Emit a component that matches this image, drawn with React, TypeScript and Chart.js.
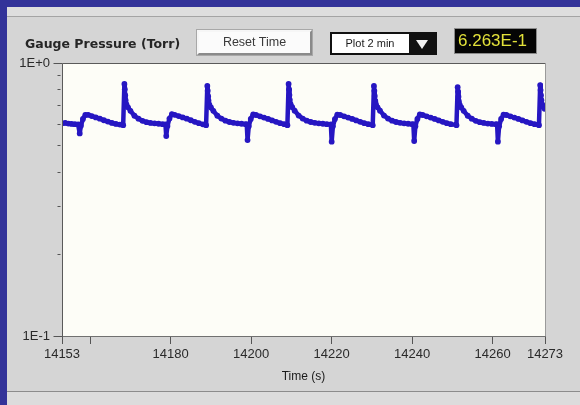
import React, { useEffect, useRef } from "react";
import { Chart, registerables } from "chart.js";

Chart.register(...registerables);

// ---- data ----
const times: number[] = [
  14153.0, 14153.8, 14154.6, 14155.4, 14156.2, 14157.0, 14157.4, 14157.7, 14158.2, 14158.8,
  14159.5, 14160.4, 14161.4, 14162.4, 14163.4, 14164.4, 14165.4, 14166.4, 14167.4, 14168.2,
  14168.5, 14168.6, 14168.7, 14168.8, 14169.0, 14169.4, 14170.0, 14171.0, 14172.0, 14173.0,
  14174.0, 14175.0, 14176.0, 14177.0, 14178.0, 14178.7, 14178.9, 14179.2, 14179.7, 14180.3,
  14181.0, 14182.0, 14183.0, 14184.0, 14185.0, 14186.0, 14187.0, 14188.0, 14188.8,
  14189.1, 14189.2, 14189.3, 14189.4, 14189.6, 14190.0, 14190.6, 14191.6, 14192.6, 14193.6,
  14194.6, 14195.6, 14196.6, 14197.6, 14198.6, 14198.9, 14199.1, 14199.4, 14199.9, 14200.5,
  14201.2, 14202.2, 14203.2, 14204.2, 14205.2, 14206.2, 14207.2, 14208.2, 14209.0,
  14209.3, 14209.4, 14209.5, 14209.6, 14209.8, 14210.2, 14210.8, 14211.8, 14212.8, 14213.8,
  14214.8, 14215.8, 14216.8, 14217.8, 14218.8, 14219.8, 14220.0, 14220.3, 14220.8, 14221.4,
  14222.1, 14223.1, 14224.1, 14225.1, 14226.1, 14227.1, 14228.1, 14229.1, 14230.2,
  14230.5, 14230.6, 14230.7, 14230.8, 14231.0, 14231.4, 14232.0, 14233.0, 14234.0, 14235.0,
  14236.0, 14237.0, 14238.0, 14239.0, 14240.0, 14240.3, 14240.5, 14240.8, 14241.3, 14241.9,
  14242.6, 14243.6, 14244.6, 14245.6, 14246.6, 14247.6, 14248.6, 14249.6, 14251.0,
  14251.3, 14251.4, 14251.5, 14251.6, 14251.8, 14252.2, 14252.8, 14253.8, 14254.8, 14255.8,
  14256.8, 14257.8, 14258.8, 14259.8, 14260.8, 14261.1, 14261.3, 14261.6, 14262.1, 14262.7,
  14263.4, 14264.4, 14265.4, 14266.4, 14267.4, 14268.4, 14269.4, 14270.4, 14271.5,
  14271.8, 14271.9, 14272.0, 14272.1, 14272.3, 14272.6, 14272.9,
];

const pressure: number[] = [
  0.601, 0.603, 0.600, 0.598, 0.597, 0.596, 0.552, 0.589, 0.624, 0.645,
  0.646, 0.639, 0.632, 0.625, 0.617, 0.610, 0.603, 0.598, 0.595, 0.592,
  0.838, 0.802, 0.762, 0.731, 0.706, 0.688, 0.668, 0.641, 0.625, 0.614,
  0.607, 0.603, 0.601, 0.599, 0.597, 0.596, 0.540, 0.588, 0.626, 0.650,
  0.646, 0.639, 0.632, 0.625, 0.617, 0.609, 0.602, 0.596, 0.592,
  0.824, 0.792, 0.756, 0.728, 0.704, 0.687, 0.668, 0.641, 0.626, 0.615,
  0.608, 0.604, 0.601, 0.599, 0.597, 0.596, 0.522, 0.587, 0.624, 0.648,
  0.645, 0.638, 0.631, 0.624, 0.616, 0.609, 0.602, 0.597, 0.592,
  0.838, 0.801, 0.763, 0.733, 0.707, 0.689, 0.669, 0.642, 0.626, 0.615,
  0.608, 0.604, 0.601, 0.599, 0.597, 0.596, 0.515, 0.586, 0.623, 0.647,
  0.645, 0.638, 0.631, 0.624, 0.616, 0.609, 0.602, 0.597, 0.592,
  0.824, 0.791, 0.757, 0.727, 0.705, 0.688, 0.669, 0.642, 0.626, 0.615,
  0.608, 0.604, 0.601, 0.599, 0.597, 0.596, 0.518, 0.587, 0.624, 0.648,
  0.645, 0.638, 0.631, 0.624, 0.616, 0.609, 0.602, 0.597, 0.592,
  0.815, 0.786, 0.753, 0.725, 0.704, 0.687, 0.668, 0.641, 0.625, 0.614,
  0.607, 0.603, 0.600, 0.598, 0.597, 0.596, 0.515, 0.586, 0.624, 0.647,
  0.645, 0.638, 0.631, 0.624, 0.616, 0.609, 0.602, 0.597, 0.592,
  0.830, 0.796, 0.762, 0.731, 0.706, 0.690, 0.680,
];

const xTickValues: number[] = [14153, 14160, 14180, 14200, 14220, 14240, 14260, 14273];
const xTickLabels: string[] = ["14153", "", "14180", "14200", "14220", "14240", "14260", "14273"];
const yTickValues: number[] = [0.1, 0.2, 0.3, 0.4, 0.5, 0.6, 0.7, 0.8, 0.9, 1];
const yTickLabels: string[] = ["1E-1", "", "", "", "", "", "", "", "", "1E+0"];

const chartTitle = "Gauge Pressure (Torr)";
const xAxisTitle = "Time (s)";
const resetLabel = "Reset Time";
const plotLabel = "Plot 2 min";
const currentReading = "6.263E-1";

// ---- styles ----
const BLUE = "#333399";
const PANEL = "#d5d5d5";
const PLOT_BG = "#fdfdf7";
const LINE = "#2616c2";
const FONT = "'Liberation Sans', Arial, sans-serif";

const framePlugin = {
  id: "frame",
  beforeDraw(chart: any) {
    const { ctx, chartArea: a } = chart;
    ctx.save();
    ctx.fillStyle = PLOT_BG;
    ctx.fillRect(a.left, a.top, a.right - a.left, a.bottom - a.top);
    ctx.restore();
  },
  afterDatasetsDraw(chart: any) {
    const { ctx, chartArea: a } = chart;
    const L = Math.round(a.left) + 0.5;
    const R = Math.round(a.right) + 0.5;
    const T = Math.round(a.top) + 0.5;
    const B = Math.round(a.bottom) + 0.5;
    ctx.save();
    ctx.lineWidth = 1;
    ctx.strokeStyle = "#5a5a5a";
    ctx.beginPath();
    ctx.moveTo(L, B);
    ctx.lineTo(L, T);
    ctx.lineTo(R, T);
    ctx.stroke();
    ctx.strokeStyle = "#9a9a9a";
    ctx.beginPath();
    ctx.moveTo(R, T);
    ctx.lineTo(R, B);
    ctx.stroke();
    ctx.strokeStyle = "#707070";
    ctx.beginPath();
    ctx.moveTo(L, B);
    ctx.lineTo(R, B);
    ctx.stroke();
    // y tick marks
    const ys = chart.scales.y;
    ctx.strokeStyle = "#555";
    yTickValues.forEach((v, i) => {
      const y = Math.round(ys.getPixelForValue(v)) + 0.5;
      ctx.beginPath();
      if (yTickLabels[i]) {
        ctx.moveTo(L - 9, y);
        ctx.lineTo(L, y);
      } else {
        ctx.moveTo(L - 5, y);
        ctx.lineTo(L - 2, y);
      }
      ctx.stroke();
    });
    ctx.restore();
  },
};

function PressureChart() {
  const ref = useRef<HTMLCanvasElement | null>(null);
  useEffect(() => {
    if (!ref.current) return;
    const chart = new Chart(ref.current, {
      type: "line",
      data: {
        datasets: [
          {
            data: times.map((t, i) => ({ x: t, y: pressure[i] })),
            borderColor: LINE,
            backgroundColor: LINE,
            borderWidth: 4.5,
            borderJoinStyle: "round",
            borderCapStyle: "round",
            pointRadius: 2.9,
            pointBorderWidth: 0,
            pointBackgroundColor: LINE,
            tension: 0,
          },
        ],
      },
      options: {
        animation: false,
        responsive: false,
        maintainAspectRatio: false,
        events: [],
        layout: { padding: { top: 63, right: 35, left: 0, bottom: 0 } },
        plugins: { legend: { display: false }, tooltip: { enabled: false } },
        scales: {
          x: {
            type: "linear",
            min: 14153,
            max: 14273,
            afterBuildTicks: (s: any) => {
              s.ticks = xTickValues.map((v) => ({ value: v }));
            },
            afterFit: (s: any) => {
              s.height = 69;
            },
            ticks: {
              autoSkip: false,
              maxRotation: 0,
              padding: 3,
              color: "#2a2a2a",
              font: { family: FONT, size: 13 },
              callback: (v: any) => {
                const i = xTickValues.indexOf(Number(v));
                return i >= 0 ? xTickLabels[i] : "";
              },
            },
            grid: {
              display: true,
              drawOnChartArea: false,
              drawTicks: true,
              tickLength: 8,
              color: "#555",
            },
            border: { display: false },
            title: {
              display: true,
              text: xAxisTitle,
              color: "#1a1a1a",
              font: { family: FONT, size: 12 },
              padding: { top: 0, bottom: 21 },
            },
          },
          y: {
            type: "logarithmic",
            min: 0.1,
            max: 1,
            afterBuildTicks: (s: any) => {
              s.ticks = yTickValues.map((v) => ({ value: v }));
            },
            afterFit: (s: any) => {
              s.width = 62;
            },
            ticks: {
              autoSkip: false,
              padding: 12,
              color: "#2a2a2a",
              font: { family: FONT, size: 13 },
              callback: (v: any) => {
                const i = yTickValues.findIndex((t) => Math.abs(t - Number(v)) < 1e-9);
                return i >= 0 ? yTickLabels[i] : "";
              },
            },
            grid: { display: false, drawTicks: false },
            border: { display: false },
          },
        },
      },
      plugins: [framePlugin],
    } as any);
    return () => chart.destroy();
  }, []);
  return (
    <canvas
      ref={ref}
      width={580}
      height={405}
      style={{ position: "absolute", left: 0, top: 0, width: 580, height: 405 }}
    />
  );
}

export default function App() {
  return (
    <div
      style={{
        position: "fixed",
        left: 0,
        top: 0,
        width: 580,
        height: 405,
        background: PANEL,
        overflow: "hidden",
        fontFamily: FONT,
      }}
    >
      {/* header strip */}
      <div style={{ position: "absolute", left: 0, top: 7, width: 580, height: 9, background: "#dedede" }} />
      <div style={{ position: "absolute", left: 0, top: 16, width: 580, height: 1, background: "#a4a4a4" }} />
      {/* bottom separator */}
      <div style={{ position: "absolute", left: 0, top: 391, width: 580, height: 1, background: "#8c8c8c" }} />
      <div style={{ position: "absolute", left: 0, top: 392, width: 580, height: 13, background: "#dcdcdc" }} />
      {/* blue frame */}
      <div style={{ position: "absolute", left: 0, top: 0, width: 580, height: 7, background: BLUE }} />
      <div style={{ position: "absolute", left: 0, top: 0, width: 7, height: 405, background: BLUE }} />

      <PressureChart />

      {/* title */}
      <div
        style={{
          position: "absolute",
          left: 25,
          top: 35,
          height: 18,
          lineHeight: "18px",
          fontFamily: "'DejaVu Sans', sans-serif",
          fontWeight: "bold",
          fontSize: 12.5,
          color: "#262626",
          whiteSpace: "nowrap",
        }}
      >
        {chartTitle}
      </div>

      {/* reset button */}
      <div
        style={{
          position: "absolute",
          left: 197,
          top: 30,
          width: 111,
          height: 21,
          background: "#fbfbfb",
          borderTop: "2px solid #f6f6f6",
          borderLeft: "2px solid #f6f6f6",
          borderRight: "2px solid #8a8a8a",
          borderBottom: "2px solid #8a8a8a",
          boxShadow: "0 0 0 1px #a8a8a8",
          textAlign: "center",
          lineHeight: "21px",
          fontSize: 12.5,
          color: "#3a3a3a",
          whiteSpace: "nowrap",
        }}
      >
        {resetLabel}
      </div>

      {/* plot dropdown */}
      <div
        style={{
          position: "absolute",
          left: 330,
          top: 32,
          width: 103,
          height: 19,
          background: "#ffffff",
          border: "2px solid #111",
        }}
      >
        <div
          style={{
            position: "absolute",
            left: 0,
            top: 0,
            width: 76,
            height: 19,
            lineHeight: "19px",
            textAlign: "center",
            fontSize: 11,
            color: "#1a1a1a",
            whiteSpace: "nowrap",
          }}
        >
          {plotLabel}
        </div>
        <div
          style={{
            position: "absolute",
            left: 77,
            top: 0,
            width: 26,
            height: 19,
            background: "#111",
          }}
        >
          <div
            style={{
              position: "absolute",
              left: 7,
              top: 6,
              width: 0,
              height: 0,
              borderLeft: "6px solid transparent",
              borderRight: "6px solid transparent",
              borderTop: "9px solid #f2f2f2",
            }}
          />
        </div>
      </div>

      {/* numeric display */}
      <div
        style={{
          position: "absolute",
          left: 454,
          top: 28,
          width: 78,
          height: 24,
          background: "#050505",
          border: "1px solid #8a8a8a",
          lineHeight: "24px",
          paddingLeft: 3,
          boxSizing: "content-box",
          fontSize: 17,
          color: "#e3e23a",
          whiteSpace: "nowrap",
        }}
      >
        {currentReading}
      </div>
    </div>
  );
}
